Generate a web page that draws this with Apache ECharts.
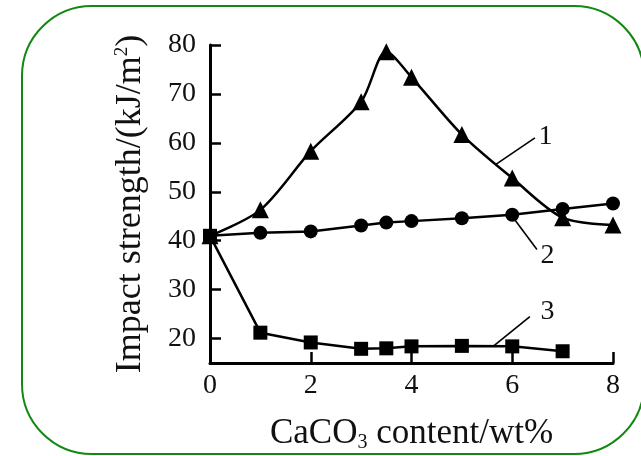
<!DOCTYPE html>
<html>
<head>
<meta charset="utf-8">
<script src="https://cdn.jsdelivr.net/npm/echarts@6/dist/echarts.min.js"></script>
<style>
html,body{margin:0;padding:0;background:#fff;}
#c{width:641px;height:456px;}
</style>
</head>
<body>
<div id="c"></div>
<script>
// Data
var xTicks = [0, 2, 4, 6, 8];
var yTicks = [20, 30, 40, 50, 60, 70, 80];
var s1x = [0, 1, 2, 3, 3.5, 4, 5, 6, 7, 8];
var s1y = [41, 46.3, 58.3, 68.4, 78.6, 73.4, 61.7, 52.8, 44.7, 43.2];
var s2x = [0, 1, 2, 3, 3.5, 4, 5, 6, 7, 8];
var s2y = [41, 41.6, 41.9, 43.1, 43.7, 44.0, 44.6, 45.3, 46.5, 47.6];
var s3x = [0, 1, 2, 3, 3.5, 4, 5, 6, 7];
var s3y = [41, 21.2, 19.2, 17.9, 18.0, 18.4, 18.5, 18.4, 17.4];
var curveNames = ['1', '2', '3'];
// leader lines (data coords): start, end, label position
var leaderStart = [[5.66, 55.5], [6.05, 44.3], [5.62, 18.4]];
var leaderEnd = [[6.45, 61.0], [6.49, 38.2], [6.35, 24.5]];
var labelPos = [[6.66, 61.3], [6.7, 37.0], [6.7, 25.4]];

function pairs(xs, ys) { return xs.map(function (x, i) { return [x, ys[i]]; }); }

var font = '"Liberation Serif", "Times New Roman", serif';
var chart = echarts.init(document.getElementById('c'), null, {renderer: 'canvas'});
var lineStyle = {color: '#000', width: 2.5};
var option = {
  animation: false,
  backgroundColor: '#fff',
  grid: {left: 210, right: 28, top: 45, bottom: 93, containLabel: false, outerBoundsMode: 'none'},
  xAxis: {
    type: 'value', min: 0, max: 8, interval: 2,
    name: 'CaCO{sub|3} content/wt%',
    nameLocation: 'middle', nameGap: 52,
    nameTextStyle: {fontFamily: font, fontSize: 35, color: '#111',
      rich: {sub: {fontFamily: font, fontSize: 20, color: '#111', verticalAlign: 'bottom', padding: [18, 0, 0, 0]}}},
    axisLine: {show: true, lineStyle: {color: '#000', width: 3}},
    axisTick: {show: true, inside: true, length: 11, lineStyle: {color: '#000', width: 2.5}},
    axisLabel: {fontFamily: font, fontSize: 28, color: '#111', margin: 9, showMinLabel: true, showMaxLabel: true},
    splitLine: {show: false}
  },
  yAxis: {
    type: 'value', min: 15, max: 80,
    name: 'Impact strength/(kJ/m{sup|2})',
    nameLocation: 'middle', nameGap: 61, nameRotate: 90,
    nameTextStyle: {fontFamily: font, fontSize: 36, color: '#111',
      rich: {sup: {fontFamily: font, fontSize: 19, color: '#111', verticalAlign: 'top', padding: [0, 0, 16, 0]}}},
    axisLine: {show: true, lineStyle: {color: '#000', width: 3}},
    axisTick: {show: true, inside: true, length: 11, customValues: yTicks, lineStyle: {color: '#000', width: 2.5}},
    axisLabel: {fontFamily: font, fontSize: 28, color: '#111', margin: 14, customValues: yTicks},
    splitLine: {show: false}
  },
  series: [
    {type: 'line', data: pairs(s1x, s1y), smooth: 0.3, symbol: 'triangle', symbolSize: 17,
      itemStyle: {color: '#000'}, lineStyle: lineStyle, z: 3},
    {type: 'line', data: pairs(s2x, s2y), smooth: false, symbol: 'circle', symbolSize: 14,
      itemStyle: {color: '#000'}, lineStyle: lineStyle, z: 3},
    {type: 'line', data: pairs(s3x, s3y), smooth: false, symbol: 'rect', symbolSize: 14,
      itemStyle: {color: '#000'}, lineStyle: lineStyle, z: 3}
  ]
};
chart.setOption(option);

var graphics = [{
  type: 'rect', shape: {x: 22, y: 6, width: 622, height: 448, r: 70},
  style: {fill: 'none', stroke: '#118811', lineWidth: 2}, z: 0, silent: true
}];
for (var i = 0; i < curveNames.length; i++) {
  var a = chart.convertToPixel({gridIndex: 0}, leaderStart[i]);
  var b = chart.convertToPixel({gridIndex: 0}, leaderEnd[i]);
  var p = chart.convertToPixel({gridIndex: 0}, labelPos[i]);
  graphics.push({type: 'line', shape: {x1: a[0], y1: a[1], x2: b[0], y2: b[1]},
    style: {stroke: '#000', lineWidth: 1.6}, z: 5, silent: true});
  graphics.push({type: 'text', x: p[0], y: p[1],
    style: {text: curveNames[i], font: '28px ' + font, fill: '#111', align: 'center', verticalAlign: 'middle'}, z: 5, silent: true});
}
chart.setOption({graphic: graphics});
</script>
</body>
</html>
